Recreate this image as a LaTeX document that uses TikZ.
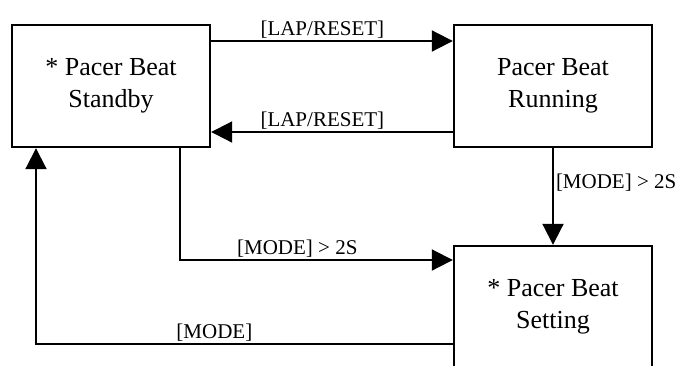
\documentclass[tikz,border=0pt]{standalone}
\usepackage{fontspec}
\setmainfont{Liberation Serif}
\usetikzlibrary{arrows.meta}

\tikzset{
  state/.style={draw, line width=2.4pt, minimum width=198pt, minimum height=122pt,
    align=center, font=\fontsize{26}{32}\selectfont},
  flow/.style={line width=2pt, -{Triangle[length=21pt, width=21pt]}},
  cond/.style={font=\fontsize{21}{24}\selectfont, inner sep=2pt}
}

\begin{document}
\begin{tikzpicture}[x=1pt, y=-1pt]
\clip (0,0) rectangle (680,365);

\node[state] (standby) at (111,86) {* Pacer Beat\\Standby};
\node[state] (running) at (553,86) {Pacer Beat\\Running};
\node[state] (setting) at (553,307) {* Pacer Beat\\Setting};

\draw[flow] ([yshift=45pt]standby.east) -- ([yshift=45pt]running.west)
  node[cond, above, pos=0.46] (lap1) {[LAP/RESET]};
\draw[flow] ([yshift=-46pt]running.west) -- ([yshift=-46pt]standby.east)
  node[cond, above, pos=0.54] (lap2) {[LAP/RESET]};
\draw[flow] (running.south) -- (setting.north)
  node[cond, right, pos=0.36] (hold1) {[MODE] > 2S};
\draw[flow] ([xshift=69pt]standby.south) |- ([yshift=47pt]setting.west)
  node[cond, above, pos=0.715] (hold2) {[MODE] > 2S};
\draw[flow] ([yshift=-37pt]setting.west) -| ([xshift=-75pt]standby.south)
  node[cond, above, pos=0.286] (mode) {[MODE]};
\end{tikzpicture}
\end{document}
